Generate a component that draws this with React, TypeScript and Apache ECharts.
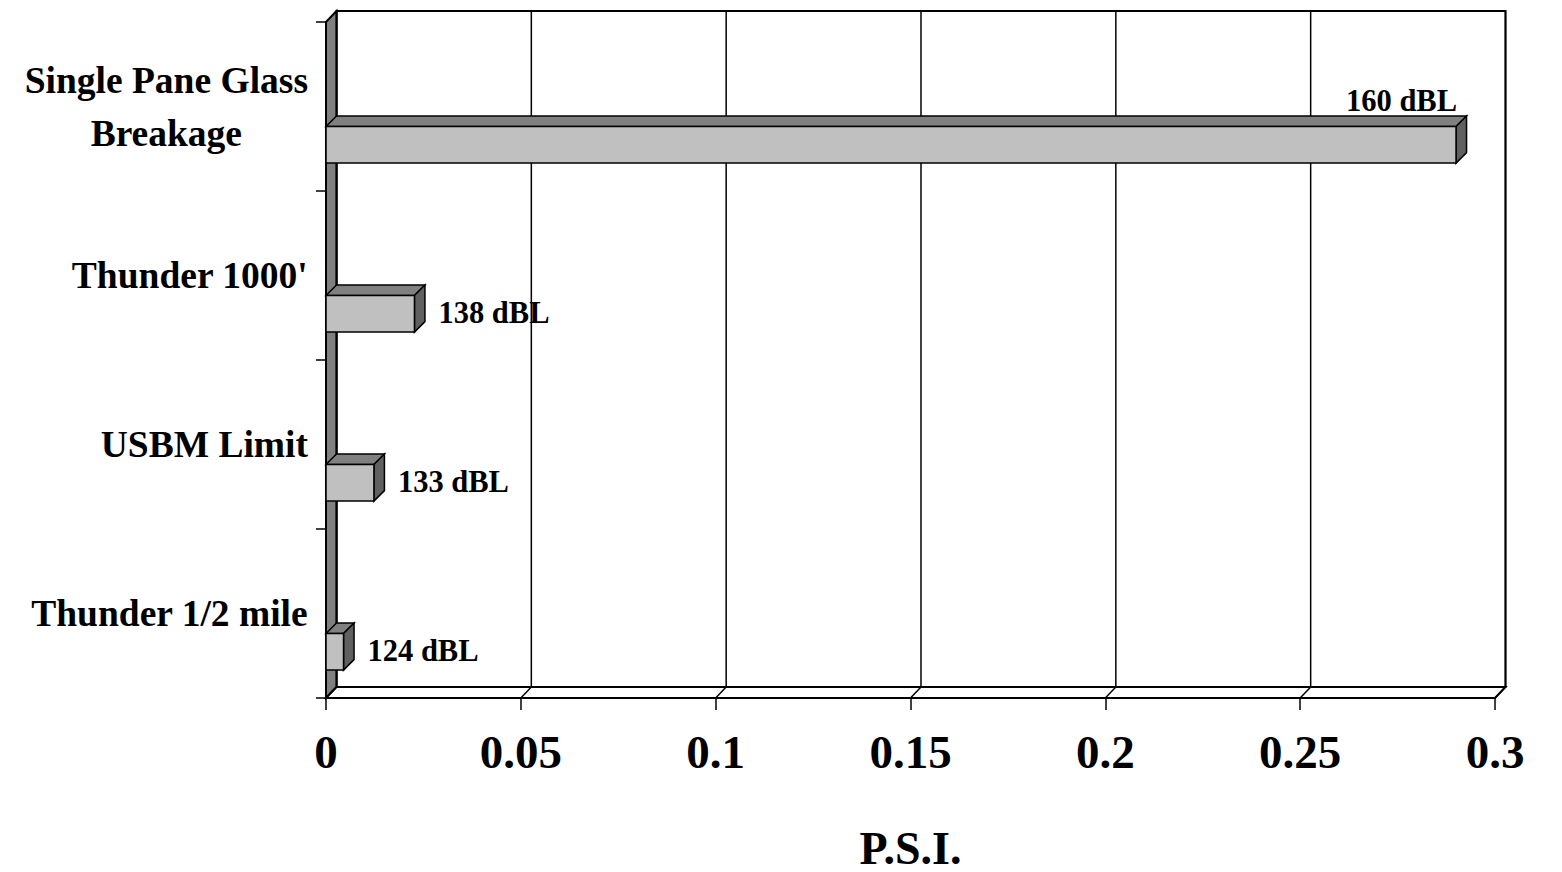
import React, { useEffect, useRef } from "react";
import * as echarts from "echarts";

const categories = ["Single Pane Glass\nBreakage", "Thunder 1000'", "USBM Limit", "Thunder 1/2 mile"];
const psiValues = [0.29, 0.0227, 0.0123, 0.0045];
const dbLabels = ["160 dBL", "138 dBL", "133 dBL", "124 dBL"];
const psiTicks = [0, 0.05, 0.1, 0.15, 0.2, 0.25, 0.3];
const axisTitle = "P.S.I.";

const FONT = '"Liberation Serif", "Times New Roman", serif';
const DX = 10.5;
const DY = 11;

export default function App() {
  const ref = useRef<HTMLDivElement>(null);
  useEffect(() => {
    if (!ref.current) return;
    const chart = echarts.init(ref.current, null, { renderer: "svg" });
    const option: any = {
      animation: false,
      backgroundColor: "#ffffff",
      grid: { left: 326, right: 67, top: 22, bottom: 174, containLabel: false, outerBoundsMode: "none" },
      xAxis: {
        type: "value",
        min: 0,
        max: 0.3,
        interval: 0.05,
        splitLine: { show: false },
        axisLine: { show: true, lineStyle: { color: "#000", width: 2 } },
        axisTick: { show: true, length: 12, lineStyle: { color: "#000", width: 1.5 } },
        axisLabel: {
          show: true,
          margin: 30,
          color: "#000",
          fontFamily: FONT,
          fontWeight: "bold",
          fontSize: 47,
          showMaxLabel: true,
          showMinLabel: true,
          formatter: (v: number) => String(parseFloat(v.toFixed(2))),
        },
        name: axisTitle,
        nameLocation: "middle",
        nameGap: 127,
        nameTextStyle: { color: "#000", fontFamily: FONT, fontWeight: "bold", fontSize: 46 },
      },
      yAxis: {
        type: "category",
        inverse: true,
        data: categories,
        splitLine: { show: false },
        axisLine: { show: true, lineStyle: { color: "#000", width: 2 } },
        axisTick: { show: true, length: 10, alignWithLabel: false, lineStyle: { color: "#000", width: 1.5 } },
        axisLabel: {
          margin: 18,
          color: "#000",
          formatter: (v: string) =>
            v
              .split("\n")
              .map((s) => "{c|" + s + "}")
              .join("\n"),
          rich: {
            c: {
              align: "center",
              fontFamily: FONT,
              fontWeight: "bold",
              fontSize: 37.5,
              lineHeight: 53,
              color: "#000",
            },
          },
        },
      },
      series: [
        {
          type: "custom",
          name: "frame",
          silent: true,
          data: [[0, 0]],
          encode: { x: 0, y: 1 },
          renderItem: (params: any) => {
            const cs = params.coordSys;
            const L = cs.x;
            const T = cs.y;
            const R = cs.x + cs.width;
            const B = cs.y + cs.height;
            return {
              type: "group",
              children: [
                {
                  type: "rect",
                  shape: { x: L + DX, y: T - DY, width: R - L, height: B - T },
                  style: { fill: "#ffffff", stroke: "#000", lineWidth: 2 },
                },
                {
                  type: "polygon",
                  shape: { points: [[L, T], [L + DX, T - DY], [L + DX, B - DY], [L, B]] },
                  style: { fill: "#808080", stroke: "#000", lineWidth: 2 },
                },
                {
                  type: "polygon",
                  shape: { points: [[L, B], [L + DX, B - DY], [R + DX, B - DY], [R, B]] },
                  style: { fill: "#ffffff", stroke: "#000", lineWidth: 2 },
                },
              ],
            };
          },
        },
        {
          type: "custom",
          name: "grid",
          silent: true,
          data: psiTicks.map((v) => [v, 0]),
          encode: { x: 0, y: 1 },
          renderItem: (params: any, api: any) => {
            const cs = params.coordSys;
            const T = cs.y;
            const B = cs.y + cs.height;
            const x = api.coord([api.value(0), 0])[0];
            return {
              type: "group",
              children: [
                {
                  type: "line",
                  shape: { x1: x + DX, y1: T - DY, x2: x + DX, y2: B - DY },
                  style: { stroke: "#000", lineWidth: 1.5 },
                },
                {
                  type: "line",
                  shape: { x1: x + DX, y1: B - DY, x2: x, y2: B },
                  style: { stroke: "#000", lineWidth: 1.5 },
                },
              ],
            };
          },
        },
        {
          type: "custom",
          name: "P.S.I.",
          data: psiValues.map((v, i) => [v, i]),
          encode: { x: 0, y: 1 },
          renderItem: (params: any, api: any) => {
            const cs = params.coordSys;
            const i = api.value(1);
            const v = api.value(0);
            const x0 = api.coord([0, i])[0];
            const [xr, yc] = api.coord([v, i]);
            const bandH = api.size([0, 1])[1];
            const top = yc + 0.118 * bandH;
            const bot = yc + 0.335 * bandH;
            const d = 10.5;
            const stroke = { stroke: "#000", lineWidth: 1.5, lineJoin: "miter" };
            const labelW = 115;
            const fitsRight = xr + 24 + labelW <= cs.x + cs.width;
            const font = "bold 30.5px " + FONT;
            const label = fitsRight
              ? {
                  type: "text",
                  x: xr + 24,
                  y: (top + bot) / 2 - 1,
                  style: { text: dbLabels[i], fill: "#000", font, align: "left", verticalAlign: "middle" },
                }
              : {
                  type: "text",
                  x: xr + 1,
                  y: top - 25,
                  style: { text: dbLabels[i], fill: "#000", font, align: "right", verticalAlign: "middle" },
                };
            return {
              type: "group",
              children: [
                {
                  type: "polygon",
                  shape: { points: [[x0, top], [x0 + d, top - d], [xr + d, top - d], [xr, top]] },
                  style: { fill: "#808080", ...stroke },
                },
                {
                  type: "polygon",
                  shape: { points: [[xr, top], [xr + d, top - d], [xr + d, bot - d], [xr, bot]] },
                  style: { fill: "#606060", ...stroke },
                },
                {
                  type: "rect",
                  shape: { x: x0, y: top, width: xr - x0, height: bot - top },
                  style: { fill: "#c0c0c0", ...stroke },
                },
                label,
              ],
            };
          },
        },
      ],
    };
    chart.setOption(option);
    return () => chart.dispose();
  }, []);
  return (
    <div
      ref={ref}
      style={{ position: "absolute", left: 0, top: 0, width: 1562, height: 872, background: "#fff" }}
    />
  );
}
